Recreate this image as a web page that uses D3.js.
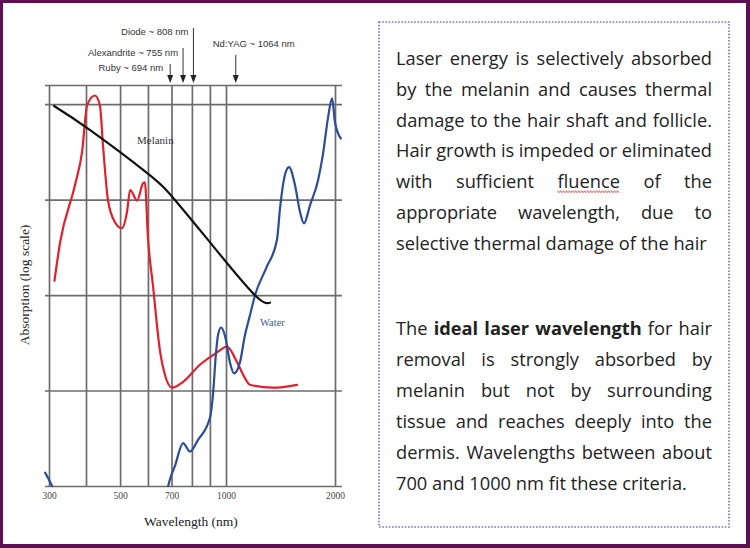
<!DOCTYPE html>
<html>
<head>
<meta charset="utf-8">
<script src="https://cdn.jsdelivr.net/npm/d3@7"></script>
<style>
  html, body { margin: 0; padding: 0; background: #5e1052; }
  svg { display: block; }
</style>
</head>
<body>
<svg id="chart" width="750" height="548"></svg>
<script>
// wavelengths (nm) for grid lines and tick labels
const gridNm = [300, 400, 500, 600, 700, 800, 900, 1000, 2000];
const tickNm = [300, 500, 700, 1000, 2000];
// absorption grid, in decades of the log scale
const gridDecades = [0, 1, 2, 3, 4, 4.2];

// laser lines
const laserNames = ['Ruby ~ 694 nm', 'Alexandrite ~ 755 nm', 'Diode ~ 808 nm', 'Nd:YAG ~ 1064 nm'];
const laserNm = [694, 755, 808, 1064];

// melanin (black)
const melaninNm = [312, 410, 596, 707, 888, 1187, 1323];
const melaninAbs = [3.98, 3.73, 3.28, 3.02, 2.58, 2.02, 1.92];

// red curve (blood)
const bloodNm = [313, 327, 367, 388, 403, 424, 438, 447, 462, 484, 506, 523, 534, 559, 581, 588, 600, 620, 650, 671, 702, 755, 843, 944, 1006, 1072, 1128, 1165, 1348, 1571];
const bloodAbs = [2.15, 2.55, 3.15, 3.50, 3.99, 4.09, 3.99, 3.57, 2.99, 2.76, 2.70, 2.87, 3.10, 2.99, 3.17, 3.18, 2.60, 2.10, 1.40, 1.16, 1.03, 1.09, 1.27, 1.40, 1.46, 1.30, 1.13, 1.06, 1.03, 1.06];

// water (blue), short UV piece + main curve
const waterUvNm = [291, 307, 317];
const waterUvAbs = [0.14, 0, -0.12];
const waterNm = [675, 693, 716, 755, 790, 832, 901, 918, 937, 949, 968, 994, 1026, 1052, 1092, 1128, 1165, 1203, 1290, 1383, 1410, 1455, 1493, 1551, 1601, 1642, 1706, 1795, 1852, 1912, 1963, 2000, 2075];
const waterAbs = [-0.1, 0.07, 0.21, 0.45, 0.36, 0.48, 0.72, 0.95, 1.40, 1.58, 1.66, 1.57, 1.29, 1.18, 1.29, 1.58, 1.79, 2.00, 2.28, 2.58, 2.91, 3.26, 3.34, 3.15, 2.87, 2.75, 2.94, 3.20, 3.47, 3.85, 4.06, 3.81, 3.64];

// text box
const para1 = [
  'Laser energy is selectively absorbed',
  'by the melanin and causes thermal',
  'damage to the hair shaft and follicle.',
  'Hair growth is impeded or eliminated',
  'with sufficient ~fluence~ of the',
  'appropriate wavelength, due to',
  'selective thermal damage of the hair'
];
const para2 = [
  'The **ideal** **laser** **wavelength** for hair',
  'removal is strongly absorbed by',
  'melanin but not by surrounding',
  'tissue and reaches deeply into the',
  'dermis. Wavelengths between about',
  '700 and 1000 nm fit these criteria.'
];

const svg = d3.select('#chart');

// white page inside purple frame
svg.append('rect')
  .attr('x', 3).attr('y', 3)
  .attr('width', 743).attr('height', 541)
  .attr('fill', '#ffffff');

// scales: log-ish wavelength axis, linear decades on y
const x = d3.scaleLog()
  .domain([300, 400, 1000, 2000])
  .range([49, 86, 226, 335]);
const y = d3.scaleLinear()
  .domain([0, 4.2])
  .range([486, 85]);

const gridColor = '#6c6c6c';

// vertical grid + tick labels
const xAxis = svg.append('g')
  .attr('transform', `translate(0,${y(0)})`)
  .call(d3.axisBottom(x)
    .tickValues(gridNm)
    .tickSize(-(y(0) - y(4.2)))
    .tickPadding(6)
    .tickFormat(d => tickNm.includes(d) ? d : ''));
xAxis.select('.domain').remove();
xAxis.selectAll('line').attr('stroke', gridColor).attr('stroke-width', 1.7);
xAxis.selectAll('text')
  .attr('font-family', 'Liberation Serif, serif')
  .attr('font-size', 9.5)
  .attr('fill', '#444');

// horizontal grid
const yAxis = svg.append('g')
  .attr('transform', 'translate(342,0)')
  .call(d3.axisLeft(y)
    .tickValues(gridDecades)
    .tickSize(297)
    .tickFormat(''));
yAxis.select('.domain').remove();
yAxis.selectAll('line').attr('stroke', gridColor).attr('stroke-width', 1.7);

// axis titles
svg.append('text')
  .attr('x', 191).attr('y', 526)
  .attr('text-anchor', 'middle')
  .attr('font-family', 'Liberation Serif, serif')
  .attr('font-size', 13.5)
  .attr('fill', '#222')
  .text('Wavelength (nm)');

svg.append('text')
  .attr('transform', 'translate(29,285) rotate(-90)')
  .attr('text-anchor', 'middle')
  .attr('font-family', 'Liberation Serif, serif')
  .attr('font-size', 13.5)
  .attr('fill', '#222')
  .text('Absorption (log scale)');

// laser arrows and labels
const laserLayout = [
  { top: 64, ty: 71, dx: -7, anchor: 'end' },
  { top: 48, ty: 56, dx: -5, anchor: 'end' },
  { top: 28, ty: 35, dx: -5, anchor: 'end' },
  { top: 55, ty: 47, dx: -23, anchor: 'start' }
];
laserNm.forEach((nm, i) => {
  const lx = x(nm);
  const L = laserLayout[i];
  svg.append('line')
    .attr('x1', lx).attr('x2', lx)
    .attr('y1', L.top).attr('y2', 78)
    .attr('stroke', '#333').attr('stroke-width', 1);
  svg.append('path')
    .attr('d', `M${lx},83 L${lx - 3},75 L${lx + 3},75 Z`)
    .attr('fill', '#222');
  svg.append('text')
    .attr('x', lx + L.dx).attr('y', L.ty)
    .attr('text-anchor', L.anchor)
    .attr('font-family', 'Liberation Sans, Arial, sans-serif')
    .attr('font-size', 9.5)
    .attr('fill', '#333')
    .text(laserNames[i]);
});

// curves
svg.append('clipPath').attr('id', 'plot-clip')
  .append('rect')
  .attr('x', 43).attr('y', 80)
  .attr('width', 302).attr('height', y(0) - 80 + 1);

const curves = svg.append('g').attr('clip-path', 'url(#plot-clip)');

function drawCurve(nms, abs, color, curve) {
  const line = d3.line()
    .x(d => x(d[0]))
    .y(d => y(d[1]))
    .curve(curve || d3.curveMonotoneX);
  curves.append('path')
    .datum(d3.zip(nms, abs))
    .attr('d', line)
    .attr('fill', 'none')
    .attr('stroke', color)
    .attr('stroke-width', 2.2)
    .attr('stroke-linejoin', 'round')
    .attr('stroke-linecap', 'round');
}

drawCurve(bloodNm, bloodAbs, '#e0202c');
drawCurve(waterUvNm, waterUvAbs, '#2b4c96');
drawCurve(waterNm, waterAbs, '#2b4c96');
drawCurve(melaninNm, melaninAbs, '#111111', d3.curveNatural);

// curve labels
svg.append('text')
  .attr('x', 137).attr('y', 144)
  .attr('font-family', 'Liberation Serif, serif')
  .attr('font-size', 11)
  .attr('fill', '#333')
  .text('Melanin');

svg.append('text')
  .attr('x', 260).attr('y', 326)
  .attr('font-family', 'Liberation Serif, serif')
  .attr('font-size', 10.5)
  .attr('fill', '#3b5a98')
  .text('Water');

// dotted text box
svg.append('rect')
  .attr('x', 379).attr('y', 22)
  .attr('width', 350).attr('height', 505)
  .attr('fill', 'none')
  .attr('stroke', '#8d6cb2')
  .attr('stroke-width', 1.6)
  .attr('stroke-dasharray', '1.6,1.6');

const textLeft = 396, textRight = 712;
const textFont = '"Open Sans", Lato, sans-serif';

// size the font so the last (unjustified) line is as wide as in the picture
const probe = svg.append('text')
  .attr('font-family', textFont).attr('font-size', 16)
  .text(para2[para2.length - 1]);
const textSize = 16 * 291 / probe.node().getComputedTextLength();
probe.remove();

function setParagraph(lines, firstBaseline, step) {
  lines.forEach((ln, li) => {
    const by = firstBaseline + li * step;
    const justify = li < lines.length - 1;
    const words = ln.split(' ').map(w => {
      let bold = false, wavy = false, t = w;
      if (t.startsWith('**')) { bold = true; t = t.slice(2, -2); }
      if (t.startsWith('~')) { wavy = true; t = t.slice(1, -1); }
      return { t, bold, wavy };
    });
    const nodes = words.map(w => svg.append('text')
      .attr('y', by)
      .attr('font-family', textFont)
      .attr('font-size', textSize)
      .attr('font-weight', w.bold ? 700 : 400)
      .attr('fill', '#222')
      .text(w.t));
    const widths = nodes.map(n => n.node().getComputedTextLength());
    const total = d3.sum(widths);
    const gap = justify ? (textRight - textLeft - total) / (words.length - 1) : textSize * 0.26;
    let cx = textLeft;
    nodes.forEach((n, i) => {
      n.attr('x', cx);
      if (words[i].wavy) {
        const pts = [];
        for (let px = cx; px <= cx + widths[i]; px += 1.5) {
          pts.push([px, by + 3.5 + (Math.round((px - cx) / 1.5) % 2 ? 1 : -1)]);
        }
        svg.append('path')
          .attr('d', d3.line()(pts))
          .attr('fill', 'none')
          .attr('stroke', '#e03030')
          .attr('stroke-width', 0.8);
      }
      cx += widths[i] + gap;
    });
  });
}

setParagraph(para1, 65, 30.8);
setParagraph(para2, 335, 31);
</script>
</body>
</html>
